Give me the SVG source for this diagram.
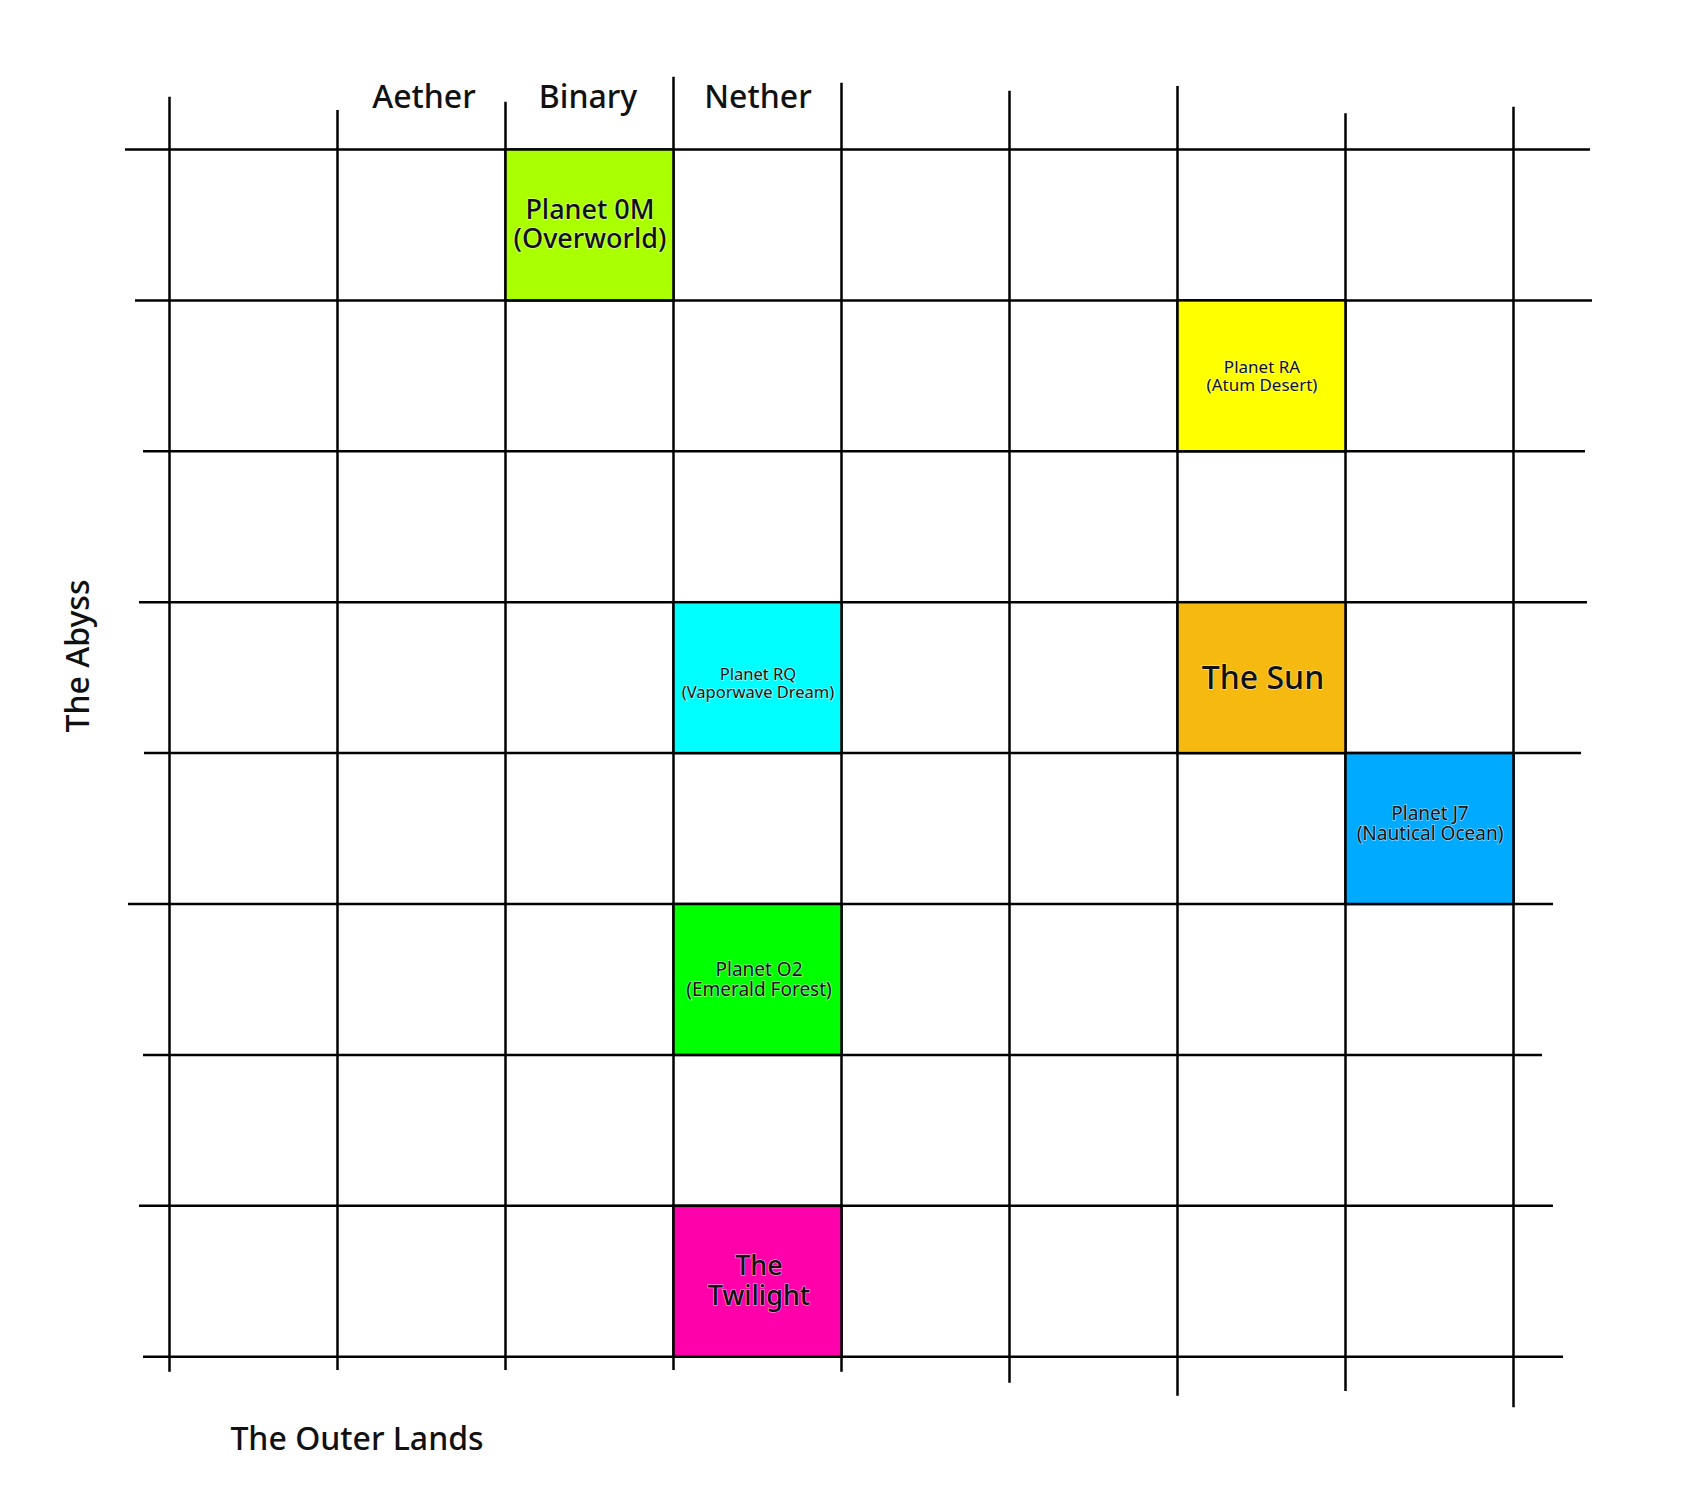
<svg xmlns="http://www.w3.org/2000/svg" width="1681" height="1509" viewBox="0 0 1681 1509">
<style>
.bg{fill:#fff}
.ln{stroke:#000;stroke-width:2.5;fill:none}
.cell{stroke:#000;stroke-width:2.5}
.t{font-family:"Noto Sans","Liberation Sans",sans-serif;fill:#111;text-anchor:middle}
.hd{font-size:32px;font-weight:500}
.lbl{paint-order:stroke;stroke:#fff;stroke-opacity:0.55;stroke-width:1.4px}
.sm{font-size:17px}
.md{font-size:19px}
.lg{font-size:27px;font-weight:500}
.xl{font-size:32px;font-weight:500}
</style>
<rect class="bg" x="0" y="0" width="1681" height="1509"/>
<g id="grid">
<line class="ln" x1="125" y1="149.5" x2="1590" y2="149.5"/>
<line class="ln" x1="135" y1="300.4" x2="1592" y2="300.4"/>
<line class="ln" x1="143" y1="451.3" x2="1585" y2="451.3"/>
<line class="ln" x1="139" y1="602.2" x2="1587" y2="602.2"/>
<line class="ln" x1="144" y1="753.1" x2="1581" y2="753.1"/>
<line class="ln" x1="128" y1="904" x2="1553" y2="904"/>
<line class="ln" x1="143" y1="1054.9" x2="1542" y2="1054.9"/>
<line class="ln" x1="139" y1="1205.8" x2="1553" y2="1205.8"/>
<line class="ln" x1="143" y1="1356.7" x2="1563" y2="1356.7"/>
<line class="ln" x1="169.5" y1="96.7" x2="169.5" y2="1371.7"/>
<line class="ln" x1="337.5" y1="110" x2="337.5" y2="1370"/>
<line class="ln" x1="505.5" y1="101.7" x2="505.5" y2="1370"/>
<line class="ln" x1="673.5" y1="76.7" x2="673.5" y2="1370"/>
<line class="ln" x1="841.5" y1="82.7" x2="841.5" y2="1371.7"/>
<line class="ln" x1="1009.5" y1="90.7" x2="1009.5" y2="1382.7"/>
<line class="ln" x1="1177.5" y1="86" x2="1177.5" y2="1395.7"/>
<line class="ln" x1="1345.5" y1="113.3" x2="1345.5" y2="1391"/>
<line class="ln" x1="1513.5" y1="106.7" x2="1513.5" y2="1407.3"/>
</g>
<g id="axis-labels">
<text class="t hd" x="424" y="108">Aether</text>
<text class="t hd" x="588" y="108">Binary</text>
<text class="t hd" x="758" y="108">Nether</text>
<text class="t hd" transform="translate(89,656) rotate(-90)">The Abyss</text>
<text class="t hd" x="357" y="1450">The Outer Lands</text>
</g>
<g id="planet-0m">
<rect class="cell" x="505.5" y="149.5" width="168" height="150.9" fill="#aaff00"/>
<text class="t lbl lg" x="590" y="219">Planet 0M<tspan x="590" dy="29">(Overworld)</tspan></text>
</g>
<g id="planet-ra">
<rect class="cell" x="1177.5" y="300.4" width="168" height="150.9" fill="#ffff00"/>
<text class="t lbl sm" x="1262" y="373">Planet RA<tspan x="1262" dy="18">(Atum Desert)</tspan></text>
</g>
<g id="planet-rq">
<rect class="cell" x="673.5" y="602.2" width="168" height="150.9" fill="#00ffff"/>
<text class="t lbl" style="font-size:16.5px" x="758" y="680">Planet RQ<tspan x="758" dy="18">(Vaporwave Dream)</tspan></text>
</g>
<g id="the-sun">
<rect class="cell" x="1177.5" y="602.2" width="168" height="150.9" fill="#f5b90f"/>
<text class="t lbl xl" x="1263" y="689">The Sun</text>
</g>
<g id="planet-j7">
<rect class="cell" x="1345.5" y="753.1" width="168" height="150.9" fill="#00aaff"/>
<text class="t lbl md" x="1430" y="820">Planet J7<tspan x="1430" dy="20">(Nautical Ocean)</tspan></text>
</g>
<g id="planet-o2">
<rect class="cell" x="673.5" y="904" width="168" height="150.9" fill="#00ff00"/>
<text class="t lbl md" x="759" y="976">Planet O2<tspan x="759" dy="20">(Emerald Forest)</tspan></text>
</g>
<g id="the-twilight">
<rect class="cell" x="673.5" y="1205.8" width="168" height="150.9" fill="#ff00aa"/>
<text class="t lbl lg" x="759" y="1275">The<tspan x="759" dy="30">Twilight</tspan></text>
</g>
</svg>
